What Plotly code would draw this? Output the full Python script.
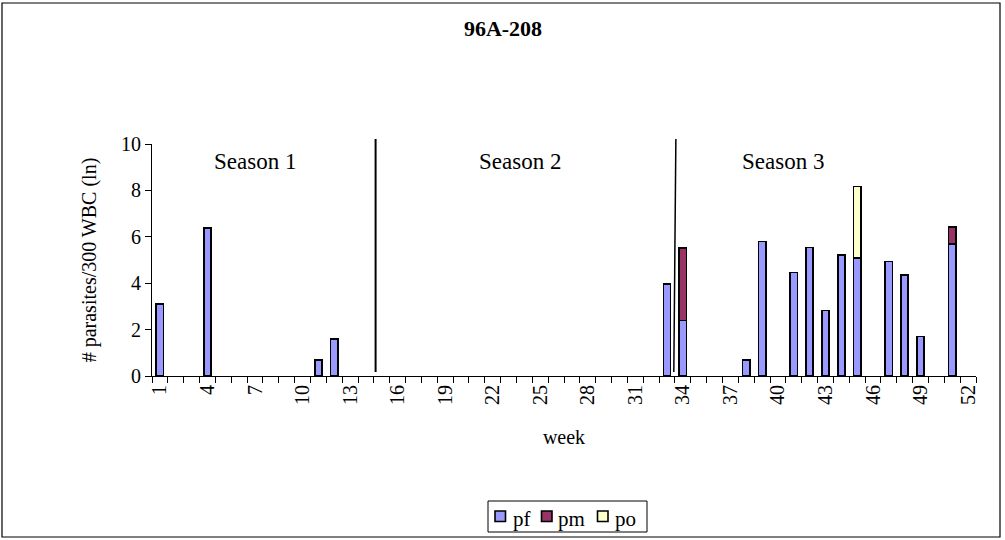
import plotly.graph_objects as go

weeks = list(range(1, 53))
pf_vals = {1: 3.1, 4: 6.37, 11: 0.69, 12: 1.61, 33: 3.96, 34: 2.39, 38: 0.70, 39: 5.80,
           41: 4.46, 42: 5.54, 43: 2.82, 44: 5.21, 45: 5.08, 47: 4.93, 48: 4.36,
           49: 1.70, 51: 5.70}
pm_vals = {34: 3.12, 51: 0.72}
po_vals = {45: 3.09}
tick_labels = [str(w) for w in range(1, 53, 3)]
season_labels = ["Season 1", "Season 2", "Season 3"]
season_x = [7.0, 23.7, 40.3]
divider_x = [(14.61, 14.61), (33.43, 33.56)]
series_names = ["pf", "pm", "po"]
series_colors = ["#9999FF", "#993366", "#FFFFCC"]

pf = [pf_vals.get(w, 0) for w in weeks]
pm = [pm_vals.get(w, 0) for w in weeks]
po = [po_vals.get(w, 0) for w in weeks]

FONT = "Liberation Serif"
fig = go.Figure()
for name, vals, color in zip(series_names, [pf, pm, po], series_colors):
    xs = [w for w, v in zip(weeks, vals) if v > 0]
    ys = [v for v in vals if v > 0]
    fig.add_trace(go.Bar(x=xs, y=ys, name=name, width=0.46, showlegend=False,
                         marker=dict(color=color, line=dict(color="black", width=1.7))))

L, R, T, B = 152, 29, 144, 164
W, H = 1005, 540
pw, ph = W - L - R, H - T - B

def px_x(p):
    return (p - L) / pw

def px_y(p):
    return (H - B - p) / ph

shapes = [dict(type="rect", xref="paper", yref="paper",
               x0=px_x(2), x1=px_x(1000), y0=px_y(537), y1=px_y(3),
               line=dict(color="black", width=1.2), layer="below")]
for (xb, xt), lw in zip(divider_x, [2, 1.5]):
    shapes.append(dict(type="line", xref="x", yref="paper", x0=xb, x1=xt,
                       y0=px_y(372), y1=px_y(139), line=dict(color="black", width=lw)))

annotations = [dict(text=s, x=x, y=px_y(161), xref="x", yref="paper", showarrow=False,
                    font=dict(family=FONT, size=23, color="black"), yanchor="middle")
               for s, x in zip(season_labels, season_x)]

# legend box (drawn manually to match the original compact layout)
shapes.append(dict(type="rect", xref="paper", yref="paper", x0=px_x(488), x1=px_x(647),
                   y0=px_y(532), y1=px_y(501), line=dict(color="black", width=1),
                   fillcolor="white"))
sym_left = [495, 541.5, 597.5]
txt_left = [511, 556, 613]
for name, color, sx, tx in zip(series_names, series_colors, sym_left, txt_left):
    shapes.append(dict(type="rect", xref="paper", yref="paper", x0=px_x(sx), x1=px_x(sx + 10.5),
                       y0=px_y(521.5), y1=px_y(511), fillcolor=color,
                       line=dict(color="black", width=1.6)))
    annotations.append(dict(text=name, x=px_x(tx), y=px_y(519), xref="paper", yref="paper",
                            xanchor="left", yanchor="middle", showarrow=False,
                            font=dict(family=FONT, size=21, color="black")))

fig.update_layout(
    width=W, height=H, margin=dict(l=L, r=R, t=T, b=B, autoexpand=False),
    barmode="stack", plot_bgcolor="white", paper_bgcolor="white",
    font=dict(family=FONT, size=20, color="black"),
    title=dict(text="<b>96A-208</b>", x=503 / W, xanchor="center",
               y=1 - 28 / H, yanchor="middle", font=dict(family=FONT, size=22)),
    shapes=shapes, annotations=annotations, showlegend=False,
)
fig.update_xaxes(range=[0.5, 52.5], tickmode="array", tickvals=list(range(1, 53, 3)),
                 ticktext=tick_labels, ticks="", tickangle=-90, showgrid=False,
                 showline=True, linecolor="black", linewidth=1, zeroline=False,
                 automargin=False, tickfont=dict(family=FONT, size=20),
                 minor=dict(ticks="outside", tick0=0.5, dtick=1, ticklen=6, tickcolor="black",
                            tickwidth=1, showgrid=False),
                 title=dict(text="week", font=dict(family=FONT, size=20), standoff=25))
fig.update_yaxes(range=[0, 10], dtick=2, ticks="outside", ticklen=6, tickcolor="black",
                 showgrid=False, showline=True, linecolor="black", linewidth=1, zeroline=False,
                 automargin=False, tickfont=dict(family=FONT, size=20),
                 title=dict(text="# parasites/300 WBC (ln)", font=dict(family=FONT, size=20),
                            standoff=19))

fig.write_html("out.html", config={"displayModeBar": False},
               post_script="document.body.style.margin='0';")
